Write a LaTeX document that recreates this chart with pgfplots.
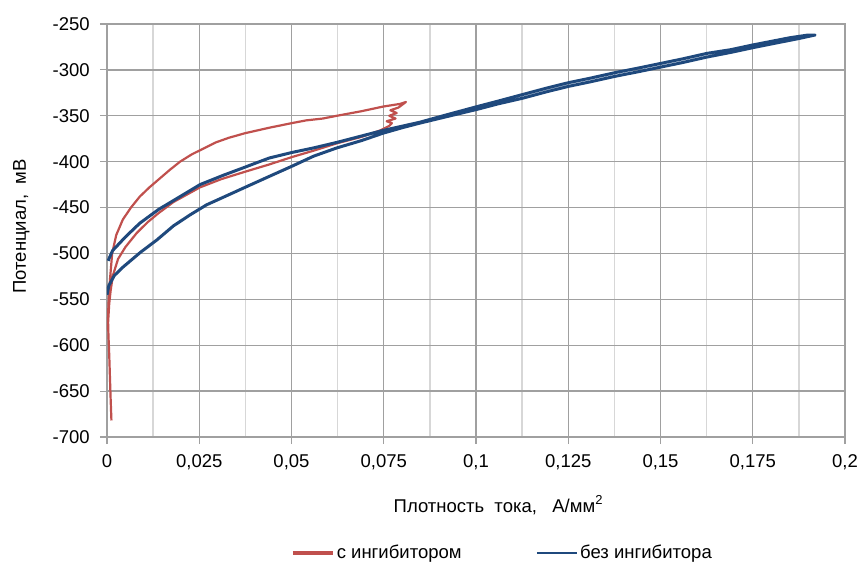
\documentclass[border=0pt]{standalone}
\usepackage{pgfplots}
\pgfplotsset{compat=1.18}
\usepackage{fontspec}
\setmainfont{Liberation Sans}
\definecolor{redc}{RGB}{192,80,77}
\definecolor{bluec}{RGB}{31,73,125}
\definecolor{gmaj}{RGB}{160,160,160}
\definecolor{gmin}{RGB}{215,215,215}
\begin{document}
\fontsize{18.5bp}{22bp}\selectfont
\begin{tikzpicture}
\begin{axis}[
  name=ax,
  scale only axis,
  width=738bp, height=413bp,
  xmin=0, xmax=0.2, ymin=-700, ymax=-250,
  xtick={0,0.025,0.05,0.075,0.1,0.125,0.15,0.175,0.2},
  xticklabels={0,{0,025},{0,05},{0,075},{0,1},{0,125},{0,15},{0,175},{0,2}},
  ytick={-700,-650,-600,-550,-500,-450,-400,-350,-300,-250},
  yticklabels={-700,-650,-600,-550,-500,-450,-400,-350,-300,-250},
  minor xtick={0.0125,0.0375,0.0625,0.0875,0.1125,0.1375,0.1625,0.1875},
  grid=both,
  major grid style={gmaj, line width=1.3bp},
  minor grid style={gmin, line width=1.3bp},
  axis line style={gmaj, line width=1.3bp},
  tick style={gmaj, line width=1.1bp},
  major tick length=7bp,
  minor tick length=0bp,
  tick align=outside,
  xtick pos=bottom, ytick pos=left,
  xticklabel style={yshift=-4bp},
  yticklabel style={xshift=-4bp},
  xlabel={Плотность\ \ тока,\ \ \ А/мм\raisebox{0.75ex}{\fontsize{13bp}{13bp}\selectfont 2}},
  ylabel={Потенциал,\ \ мВ},
  xlabel style={at={(axis description cs:0.53,-0.165)}, anchor=center},
  ylabel style={at={(axis description cs:-0.116,0.51)}, anchor=center},
  legend style={at={(axis description cs:0.245,-0.281)}, anchor=west, draw=none, fill=none,
    legend columns=2, nodes={inner sep=2bp},
    /tikz/every even column/.append style={column sep=72bp}},
]
\addplot[redc, line width=2.2bp, line join=round,
  legend image code/.code={\draw[redc, line width=3.8bp] (0bp,0bp) -- (40bp,0bp);}]
coordinates {
(0.0012,-682)(0.0010,-660)(0.0008,-635)(0.0006,-610)(0.0004,-590)(0.0003,-575)
(0.0006,-555)(0.0010,-540)(0.0016,-524)(0.0030,-506)(0.0050,-493)(0.0080,-478)
(0.0110,-466)(0.0140,-456)(0.0180,-444)(0.0225,-434)(0.0252,-428)(0.0310,-419)
(0.0374,-411)(0.0440,-403)(0.0501,-395)(0.0560,-388)(0.0623,-380)(0.0690,-373)
(0.0740,-366)(0.0765,-361)(0.0772,-358)(0.0758,-356)(0.0782,-353)(0.0765,-350)
(0.0785,-347)(0.0768,-344)(0.0790,-341)(0.0800,-338)(0.0810,-335)(0.0795,-337)
(0.0748,-340)(0.0690,-345)(0.0623,-350)(0.0585,-353)(0.0540,-355)(0.0501,-358)
(0.0440,-363)(0.0374,-369)(0.0330,-374)(0.0295,-379)(0.0265,-385)(0.0230,-392)
(0.0198,-400)(0.0170,-409)(0.0144,-418)(0.0115,-428)(0.0089,-438)(0.0065,-450)
(0.0043,-463)(0.0025,-480)(0.0014,-500)(0.0008,-529)(0.0004,-555)(0.0002,-583)
};
\addlegendentry{с ингибитором}
\addplot[bluec, line width=3bp, line join=round,
  legend image code/.code={\draw[bluec, line width=2.6bp] (0bp,0bp) -- (40bp,0bp);}]
coordinates {
(0.0000,-545)(0.0005,-535)(0.0020,-524)(0.0043,-515)(0.0090,-499)(0.0136,-485)
(0.0180,-470)(0.0225,-458)(0.0270,-447)(0.0314,-439)(0.0374,-428)(0.0440,-416)
(0.0501,-405)(0.0560,-394)(0.0623,-385)(0.0690,-377)(0.0748,-369)(0.0800,-363)
(0.0848,-358)(0.0920,-351)(0.1003,-343)(0.1060,-337)(0.1125,-331)(0.1190,-324)
(0.1250,-318)(0.1310,-313)(0.1377,-307)(0.1440,-302)(0.1500,-297)(0.1560,-292)
(0.1626,-286)(0.1690,-281)(0.1748,-276)(0.1810,-271)(0.1873,-266)(0.1919,-262)
(0.1900,-262)(0.1850,-265)(0.1748,-273)(0.1690,-278)(0.1626,-282)(0.1560,-288)
(0.1500,-293)(0.1440,-298)(0.1377,-303)(0.1310,-309)(0.1250,-314)(0.1190,-320)
(0.1125,-327)(0.1060,-334)(0.1003,-340)(0.0920,-349)(0.0848,-357)(0.0748,-366)
(0.0690,-372)(0.0623,-379)(0.0560,-385)(0.0501,-390)(0.0440,-396)(0.0400,-402)
(0.0374,-406)(0.0314,-415)(0.0252,-425)(0.0190,-440)(0.0140,-452)(0.0089,-467)
(0.0050,-482)(0.0015,-497)(0.0003,-508)
};
\addlegendentry{без ингибитора}
\end{axis}
\pgfresetboundingbox
\path ([xshift=-107bp,yshift=-130bp]ax.south west) rectangle ([xshift=16bp,yshift=24bp]ax.north east);
\end{tikzpicture}
\end{document}
